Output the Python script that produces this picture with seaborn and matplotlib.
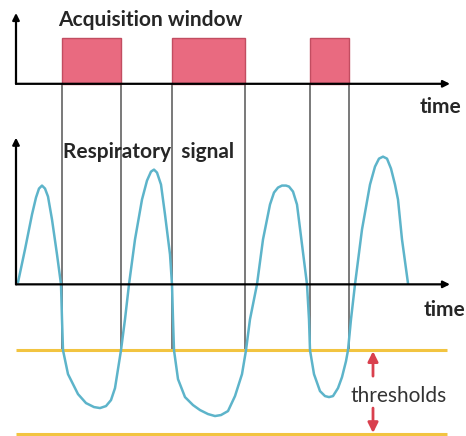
import matplotlib
matplotlib.use('Agg')
import matplotlib.pyplot as plt
import seaborn as sns
import pandas as pd

# respiratory signal (time, amplitude)
sig_time = [2, 9, 16, 20, 23, 26, 29, 32, 36, 41, 45, 46, 47, 52, 62, 70, 78, 84, 90, 95, 99, 102, 105, 109, 113,
            119, 126, 131, 135, 138, 141, 145, 149, 154, 156, 157, 158, 162, 169, 177, 184, 192, 199, 205, 212, 219, 226, 230, 234, 241,
            247, 254, 258, 262, 266, 270, 273, 277, 281, 286, 291, 293, 294, 298, 304, 309, 313, 317, 322, 326, 330, 332, 335, 339,
            346, 354, 359, 363, 367, 371, 375, 379, 382, 386, 392]
sig_amp = [2, 35, 70, 87, 96, 99, 96, 88, 65, 30, 0, -35, -66, -90, -110, -119, -123, -124, -122, -116, -104, -85, -66, -35, 0,
           45, 85, 104, 113, 115, 112, 100, 70, 30, 0, -35, -66, -95, -113, -121, -126, -130, -132, -131, -127, -112, -90, -66, -35, 0,
           45, 80, 92, 97, 99, 99, 98, 93, 80, 40, 0, -35, -66, -90, -107, -112, -113, -112, -104, -93, -77, -66, -35, 0,
           55, 100, 118, 126, 128, 126, 116, 100, 85, 45, 1]

# acquisition windows (start, end)
win_start = [46, 156, 294]
win_end = [105, 229, 333]

thresholds = [-66, -150]

# layout of the diagram (in the same units)
top_base = 201
win_height = 46

sns.set_theme(style='white')
plt.rcParams['font.family'] = ['Lato', 'DejaVu Sans']

fig = plt.figure(figsize=(4.66, 4.36), dpi=100)
ax = fig.add_axes([0, 0, 1, 1])
ax.set_xlim(-16, 450)
ax.set_ylim(-152, 285)
ax.axis('off')

# windows
widths = [e - s for s, e in zip(win_start, win_end)]
ax.bar(win_start, [win_height] * 3, width=widths, bottom=top_base, align='edge',
       color='#e96a80', edgecolor='#c24d61', linewidth=1.0, zorder=2)
# window edges going down to the upper threshold
ax.vlines(win_start + win_end, thresholds[0], top_base, color='#555555', linewidth=1.1, zorder=1)

# thresholds
ax.hlines(thresholds, 0, 431, color='#f2c440', linewidth=2.2, zorder=1)

# signal
df = pd.DataFrame({'time': sig_time, 'amp': sig_amp})
sns.lineplot(data=df, x='time', y='amp', sort=False, color='#5db4ca', linewidth=1.8, ax=ax, zorder=3)

# axes arrows
arrow = dict(arrowstyle='-|>', color='black', lw=1.6, mutation_scale=10, shrinkA=0, shrinkB=0)
ax.annotate('', xy=(434, top_base), xytext=(0, top_base), arrowprops=arrow, zorder=4)
ax.annotate('', xy=(0, 272), xytext=(0, top_base), arrowprops=arrow, zorder=4)
ax.annotate('', xy=(434, 0), xytext=(0, 0), arrowprops=arrow, zorder=4)
ax.annotate('', xy=(0, 147), xytext=(0, 0), arrowprops=arrow, zorder=4)

# red threshold arrows
red = dict(arrowstyle='-|>', color='#d9404e', lw=2.0, mutation_scale=15, shrinkA=0, shrinkB=0)
ax.annotate('', xy=(357, -67), xytext=(357, -92), arrowprops=red)
ax.annotate('', xy=(357, -149), xytext=(357, -124), arrowprops=red)

# text
ax.text(42, 265, 'Acquisition window', fontsize=15, fontweight='bold', va='center', ha='left')
ax.text(47, 133, 'Respiratory  signal', fontsize=15, fontweight='bold', va='center', ha='left')
ax.text(445, 178, 'time', fontsize=15, fontweight='bold', va='center', ha='right')
ax.text(449, -26, 'time', fontsize=15, fontweight='bold', va='center', ha='right')
ax.text(383, -112, 'thresholds', fontsize=15, va='center', ha='center', color='#333333')

fig.savefig('out.png', dpi=100)
